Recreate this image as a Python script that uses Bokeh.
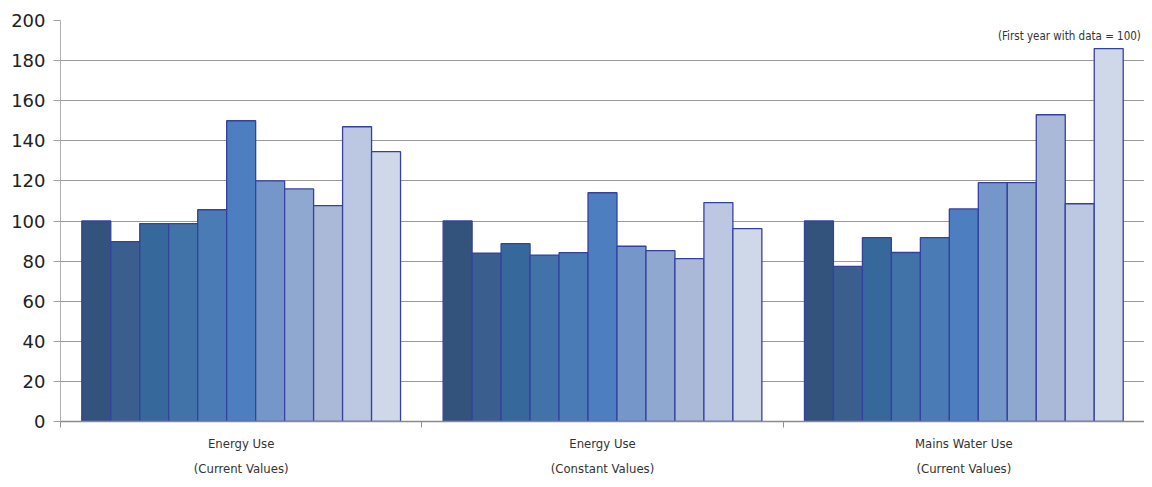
from bokeh.plotting import figure
from bokeh.models import ColumnDataSource, FixedTicker, Label, Range1d
from bokeh.embed import file_html
from bokeh.resources import INLINE

groups = ["Energy Use\n(Current Values)", "Energy Use\n(Constant Values)", "Mains Water Use\n(Current Values)"]
current_energy = [100, 89.7, 98.7, 98.7, 105.6, 150, 120, 116, 107.7, 147, 134.6]
constant_energy = [100, 84, 88.7, 83, 84.2, 114.1, 87.4, 85.2, 81.2, 109.2, 96.2]
mains_water = [100, 77.4, 91.7, 84.3, 91.7, 106, 119.1, 119.1, 153, 108.6, 186]
year_colors = ["#33527c", "#3a5f8e", "#36689b", "#4173a9", "#4a7bb4", "#4d7fc0",
               "#7596c8", "#8fa8cf", "#aab9d8", "#bcc8e1", "#ced8e8"]

series = [current_energy, constant_energy, mains_water]
n = len(year_colors)
bw = 1 / 12.47

xs, tops, fills = [], [], []
for g, vals in enumerate(series):
    for i, v in enumerate(vals):
        xs.append(g + 0.5 + (i - (n - 1) / 2) * bw)
        tops.append(v)
        fills.append(year_colors[i])
src = ColumnDataSource(dict(x=xs, top=tops, fill=fills))

p = figure(width=1144, height=479, output_backend="svg", toolbar_location=None,
           x_range=Range1d(0, 3), y_range=Range1d(0, 200),
           min_border_left=60, min_border_right=0, min_border_top=20, min_border_bottom=58)
p.outline_line_color = None
p.background_fill_color = "white"

p.vbar(x="x", top="top", width=bw, bottom=0, source=src,
       fill_color="fill", line_color="#3441a0", line_width=1.3)

# y axis
p.yaxis.ticker = FixedTicker(ticks=list(range(0, 201, 20)))
p.yaxis.axis_line_color = "#b0b0b0"
p.yaxis.major_tick_line_color = "#a0a0a0"
p.yaxis.major_tick_out = 7
p.yaxis.major_tick_in = 0
p.yaxis.minor_tick_line_color = None
p.yaxis.major_label_text_font = "DejaVu Sans"
p.yaxis.major_label_text_font_size = "18px"
p.yaxis.major_label_text_color = "#222222"
p.yaxis.major_label_standoff = 8
p.ygrid.grid_line_color = "#9a9a9a"
p.ygrid.grid_line_width = 1.2

# x axis: labels at group centres, ticks at group boundaries
p.xaxis.ticker = FixedTicker(ticks=[0.5, 1.5, 2.5], minor_ticks=[0, 1, 2, 3])
p.xaxis.major_label_overrides = {0.5: groups[0], 1.5: groups[1], 2.5: groups[2]}
p.xaxis.major_tick_line_color = None
p.xaxis.minor_tick_line_color = "#909090"
p.xaxis.minor_tick_out = 6
p.xaxis.minor_tick_in = 0
p.xaxis.axis_line_color = "#8a8a8a"
p.xaxis.axis_line_width = 1.3
p.xaxis.major_label_text_font = "'DejaVu Sans Condensed', sans-serif"
p.xaxis.major_label_text_font_size = "13px"
p.xaxis.major_label_text_color = "#333333"
p.xaxis.major_label_text_line_height = 1.7
p.xaxis.major_label_standoff = 8
p.xgrid.grid_line_color = None

p.add_layout(Label(x=2.99, y=192.5, text="(First year with data = 100)",
                   text_align="right", text_baseline="middle",
                   text_font="'DejaVu Sans Condensed', sans-serif",
                   text_font_size="11.5px", text_color="#333333"))

open("out.html", "w").write(file_html(p, INLINE))
